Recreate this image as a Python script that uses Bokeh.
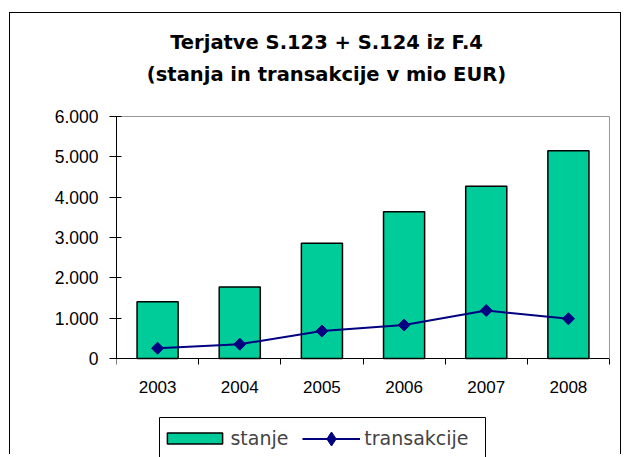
import math
from bokeh.plotting import figure
from bokeh.models import (Range1d, FixedTicker, LinearAxis, Legend, LegendItem,
                          Label, BoxAnnotation, ColumnDataSource)
from bokeh.embed import file_html
from bokeh.resources import INLINE

# ---- data ----
years = ["2003", "2004", "2005", "2006", "2007", "2008"]
stanje = [1410, 1770, 2860, 3640, 4270, 5150]
transakcije = [255, 355, 680, 830, 1190, 985]
y_ticks = [0, 1000, 2000, 3000, 4000, 5000, 6000]
y_tick_labels = ["0", "1.000", "2.000", "3.000", "4.000", "5.000", "6.000"]
title_lines = ["Terjatve S.123 + S.124 iz F.4", "(stanja in transakcije v mio EUR)"]
series_names = ["stanje", "transakcije"]

TICK_FONT = "Liberation Sans"
TEXT_FONT = "DejaVu Sans"

# ---- layout (pixels) ----
W, H = 626, 457
PLOT_L, PLOT_R, PLOT_T, PLOT_B = 116, 609, 116, 358   # plot area of the reference
FRAME_R = 616                                          # frame right edge (canvas px)
n = len(years)
ymax = y_ticks[-1]
per_px = ymax / (PLOT_B - PLOT_T)
x_end = n * (FRAME_R - PLOT_L) / (PLOT_R - PLOT_L)
y_start = -(H - PLOT_B) * per_px
y_end = ymax + PLOT_T * per_px


def px2x(px):
    return (px - PLOT_L) * n / (PLOT_R - PLOT_L)


def py2y(py):
    return (PLOT_B - py) * per_px


x = [i + 0.5 for i in range(n)]
src = ColumnDataSource(dict(x=x, year=years, stanje=stanje, transakcije=transakcije))

p = figure(width=W, height=H, output_backend="svg", toolbar_location=None,
           x_range=Range1d(0, x_end), y_range=Range1d(y_start, y_end),
           min_border_left=PLOT_L, min_border_top=0, min_border_right=W - FRAME_R,
           min_border_bottom=0, x_axis_type=None, y_axis_type=None)
p.title = None
p.outline_line_color = None
p.background_fill_color = None
p.border_fill_color = None
# outer chart border: thin black frame, open at the bottom (cut off like the reference)
p.styles = {"box-shadow": "inset 0 -3px 0 0 white, inset 2px 5px 0 7px white, "
                          "inset 2px 5px 0 8px black"}

# x axis at y = 0: labels at category centres, ticks between categories
xaxis = LinearAxis(ticker=FixedTicker(ticks=x, minor_ticks=list(range(n + 1))),
                   major_label_overrides={xi: yr for xi, yr in zip(x, years)},
                   fixed_location=0, bounds=(0, n))
xaxis.major_tick_in = 0
xaxis.major_tick_out = 0
xaxis.minor_tick_in = 0
xaxis.minor_tick_out = 6
xaxis.minor_tick_line_color = "black"
xaxis.axis_line_color = "black"
xaxis.major_label_standoff = 16
xaxis.major_label_text_font = TICK_FONT
xaxis.major_label_text_font_size = "17px"
xaxis.major_label_text_color = "black"
p.add_layout(xaxis, "below")

yaxis = LinearAxis(ticker=FixedTicker(ticks=y_ticks, minor_ticks=[]),
                   major_label_overrides={t: l for t, l in zip(y_ticks, y_tick_labels)},
                   bounds=(0, ymax))
yaxis.major_tick_in = 5
yaxis.major_tick_out = 7
yaxis.major_tick_line_color = "black"
yaxis.axis_line_color = "black"
yaxis.major_label_standoff = 11
yaxis.major_label_text_font = TICK_FONT
yaxis.major_label_text_font_size = "17.5px"
yaxis.major_label_text_color = "black"
p.add_layout(yaxis, "left")

# grey top and right edges of the plot area
top_edge = LinearAxis(ticker=FixedTicker(ticks=[], minor_ticks=[]), fixed_location=ymax,
                      bounds=(0, n), axis_line_color="#999999")
right_edge = LinearAxis(ticker=FixedTicker(ticks=[], minor_ticks=[]), fixed_location=n,
                        bounds=(0, ymax), axis_line_color="#999999")
p.add_layout(top_edge, "above")
p.add_layout(right_edge, "right")

bars = p.vbar(x="x", top="stanje", bottom=0, width=0.5, source=src,
              fill_color="#00CC99", line_color="black", line_width=1.5)
line_r = p.line("x", "transakcije", source=src, line_color="#000080", line_width=2)
pts = p.scatter("x", "transakcije", source=src, marker="square", angle=math.pi / 4,
                size=8.5, fill_color="#000080", line_color="#000080", line_width=1)
# same points as a diamond marker, used only for the legend swatch
pts_key = p.scatter("x", "transakcije", source=src, marker="diamond", size=14,
                    fill_color="#000080", line_color="#000080", line_width=1, visible=False)

# two-line title
for text, cx, by in zip(title_lines, [326, 326], [42, 74]):
    p.add_layout(Label(x=cx - PLOT_L, y=H - by, x_units="screen", y_units="screen",
                       text=text, text_align="center", text_baseline="alphabetic",
                       text_font=TEXT_FONT, text_font_style="bold", text_font_size="19.5px",
                       text_color="black"))

# legend frame (cut at the bottom edge like the reference)
p.add_layout(BoxAnnotation(left=px2x(159), right=px2x(485), top=py2y(417), bottom=py2y(475),
                           fill_color="white", fill_alpha=1.0, line_color="black",
                           line_width=1, line_alpha=1.0))

leg_common = dict(orientation="horizontal", padding=0, spacing=0, margin=0,
                  label_text_font=TEXT_FONT, label_text_font_size="19px",
                  border_line_color=None, background_fill_alpha=0.0,
                  inactive_fill_alpha=0.0)
legend_a = Legend(items=[LegendItem(label=series_names[0], renderers=[bars])],
                  location=(160.4 - PLOT_L, 8), glyph_width=69, glyph_height=14,
                  label_standoff=1, **leg_common)
legend_b = Legend(items=[LegendItem(label=series_names[1], renderers=[line_r, pts_key])],
                  location=(302.3 - PLOT_L, 1.5), glyph_width=58, glyph_height=35,
                  label_standoff=4, **leg_common)
p.add_layout(legend_a, "center")
p.add_layout(legend_b, "center")

open("out.html", "w").write(file_html(p, INLINE))
